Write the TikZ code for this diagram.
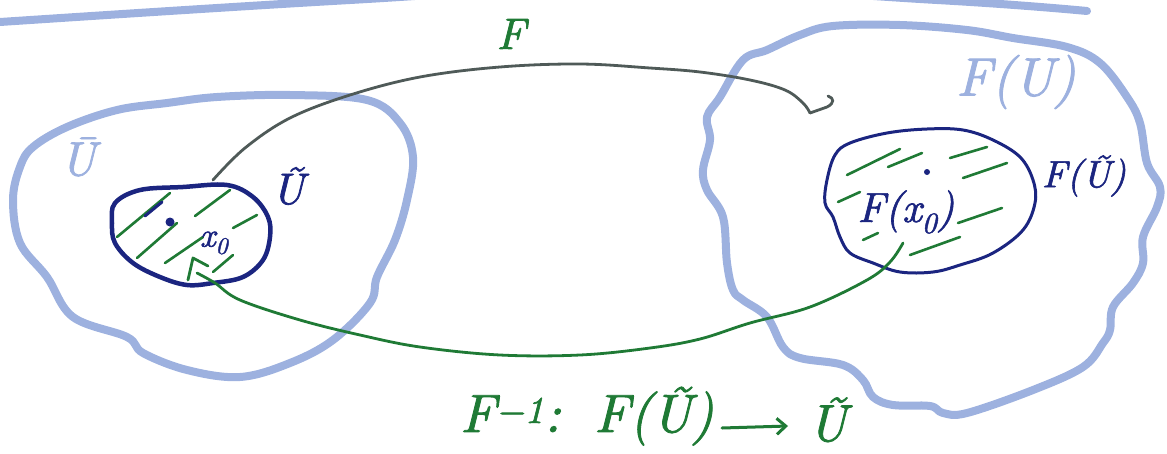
\documentclass[tikz,border=0pt]{standalone}
\usepackage{fontspec}
\usetikzlibrary{arrows.meta}
\newfontfamily\hand{lmroman10-italic.otf}[FakeBold=1.6]
\definecolor{lblue}{HTML}{9DB1DF}
\definecolor{navy}{HTML}{1B2580}
\definecolor{sgreen}{HTML}{1F7A35}
\definecolor{sgray}{HTML}{4F5A58}
\tikzset{
  blob/.style={draw=lblue, line width=8pt, line join=round, line cap=round},
  setline/.style={draw=navy, line width=4pt, line join=round},
  hatch/.style={draw=sgreen, line width=2.6pt, line cap=round},
  mapF/.style={draw=sgray, line width=2.8pt, line cap=round},
  mapG/.style={draw=sgreen, line width=2.8pt, line cap=round, line join=round},
  lab/.style={inner sep=0pt, anchor=center},
}
\newcommand{\hs}[1]{\fontsize{#1}{#1}\selectfont\hand}
\begin{document}
\begin{tikzpicture}[x=1pt,y=-1pt]
\useasboundingbox (0,0) rectangle (1167,453);
\clip (0,0) rectangle (1167,453);
% top stroke
\draw[blob] plot[smooth, tension=0.7] coordinates {(0,22) (350,0) (640,-14) (937,0) (1087,11)};
% U closure blob
\draw[blob] plot[smooth cycle, tension=0.6] coordinates {
 (67,127) (117,110) (167,103) (217,97) (290,95) (367,100) (400,123) (413,157)
 (407,200) (395,240) (377,277) (370,303) (333,340) (290,363) (240,377) (187,370)
 (143,353) (127,337) (73,317) (47,277) (20,243) (13,200) (20,167) (33,147)};
% F(U) blob
\draw[blob] plot[smooth cycle, tension=0.6] coordinates {
 (767,50) (800,35) (833,26) (900,25) (967,30) (1013,38) (1067,47) (1100,63)
 (1127,97) (1140,123) (1147,163) (1160,187) (1157,207) (1143,237) (1143,263)
 (1133,283) (1113,307) (1110,330) (1103,343) (1083,367) (1033,390) (967,413)
 (943,413) (930,406) (893,405) (873,397) (863,380) (843,365) (800,358) (783,347)
 (767,317) (743,300) (733,290) (727,263) (723,217) (707,190) (703,170) (710,140)
 (707,117) (720,97) (743,60)};
\node[lab, text=lblue, font=\hs{48}] (Ubar) at (78,157) {Ū};
\node[lab, text=lblue, font=\hs{54}] (FU) at (1016,82) {F(U)};
% hatching left
\draw[hatch] (117,237) -- (170,193);
\draw[hatch] (137,258) -- (177,223);
\draw[hatch] (165,263) -- (203,237);
\draw[hatch] (195,216) -- (230,190);
\draw[hatch] (233,228) -- (257,215);
\draw[hatch] (213,272) -- (233,255);
% hatching right
\draw[hatch] (847,175) -- (900,149);
\draw[hatch] (888,167) -- (922,153);
\draw[hatch] (950,158) -- (987,147);
\draw[hatch] (963,178) -- (1007,163);
\draw[hatch] (838,202) -- (860,192);
\draw[hatch] (958,223) -- (1002,208);
\draw[hatch] (863,240) -- (878,233);
\draw[hatch] (910,255) -- (960,237);
% U tilde set
\draw[setline, line width=4.5pt] plot[smooth cycle, tension=0.6] coordinates {
 (140,190) (183,187) (227,185) (253,197) (268,217) (270,237) (263,260) (243,277)
 (213,283) (187,285) (160,277) (133,263) (115,243) (112,223) (115,203)};
\draw[draw=navy, line width=3pt, line cap=round] (145,216) -- (162,202);
\fill[navy] (170,222) circle (4.5pt);
\node[lab, text=navy, font=\hs{34}] (x0) at (214,243) {x\textsubscript{0}};
\node[lab, text=navy, font=\hs{44}] (Ut) at (288,186) {Ũ};
% F(U tilde) set
\draw[setline, line width=3pt] plot[smooth cycle, tension=0.6] coordinates {
 (835,155) (850,143) (887,133) (927,129) (963,130) (993,140) (1020,157) (1033,180)
 (1035,203) (1023,230) (993,253) (960,265) (933,272) (900,272) (873,263) (850,253)
 (840,237) (833,217) (825,203) (827,180)};
\fill[navy] (927,172) circle (3pt);
\node[lab, text=navy, font=\hs{42}] (Fx0) at (906,212) {F(x\textsubscript{0})};
\node[lab, text=navy, font=\hs{38}] (FUt) at (1084,176) {F(Ũ)};
% map F
\coordinate (Fs) at (213,180);
\coordinate (Fe) at (810,113);
\draw[mapF] plot[smooth, tension=0.6] coordinates {(Fs) (245,148) (290,118) (350,95) (420,77) (500,67) (580,64) (650,68) (700,72) (750,80) (785,90) (803,103) (Fe)};
\draw[mapF, line join=round] (Fe) -- (827,107) .. controls (835,103) and (834,98) .. (828,96);
\node[lab, text=sgreen, font=\hs{44}] (Flab) at (511,34) {F};
% map F^-1
\coordinate (Gs) at (903,243);
\coordinate (Ge) at (197,273);
\coordinate (Gtip) at (193,258);
\draw[mapG] plot[smooth, tension=0.6] coordinates {(Gs) (890,262) (867,280) (810,307) (750,323) (700,339) (650,348) (580,355) (500,355) (420,347) (360,335) (300,320) (240,300) (215,283) (Ge)};
\draw[mapG] (188,280) -- (Gtip) -- (208,266);
% bottom label
\node[lab, text=sgreen, font=\hs{54}, anchor=base west] (Finv) at (460,432) {F\textsuperscript{−1}:};
\node[lab, text=sgreen, font=\hs{54}, anchor=base west] (FUt2) at (594,432) {F(Ũ)};
\coordinate (Aa) at (722,428);
\coordinate (Ab) at (788,426);
\draw[draw=sgreen, line width=3pt, line cap=round, -{Straight Barb[length=9pt,width=16pt,line width=3pt]}] (Aa) -- (Ab);
\node[lab, text=sgreen, font=\hs{52}, anchor=base west] (Ut2) at (808,441) {Ũ};
\end{tikzpicture}
\end{document}
